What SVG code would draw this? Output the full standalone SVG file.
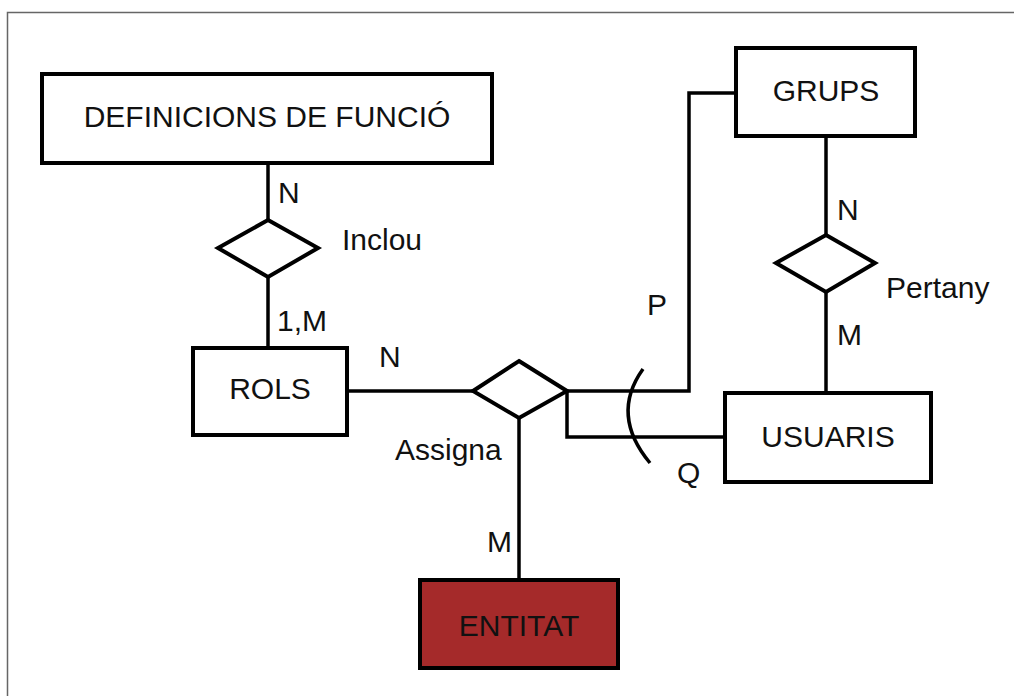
<svg xmlns="http://www.w3.org/2000/svg" width="1014" height="696" viewBox="0 0 1014 696">
<style>
.box{fill:#fff;stroke:#000;stroke-width:4}
.dia{fill:#fff;stroke:#000;stroke-width:4;stroke-linejoin:miter}
.ln{fill:none;stroke:#000;stroke-width:3.5}
text{font-family:"Liberation Sans",Arial,sans-serif;font-size:30px;fill:#111}
.c{text-anchor:middle}
</style>
<rect width="1014" height="696" fill="#fff"/>
<path d="M7.5 696 V12.5 H1014" fill="none" stroke="#666" stroke-width="1.5"/>
<g id="connectors">
<path class="ln" d="M268 163 V220"/>
<path class="ln" d="M268 277 V348"/>
<path class="ln" d="M347 391 H473"/>
<path class="ln" d="M519 418 V580"/>
<path class="ln" d="M567 391 H689 V93 H736"/>
<path class="ln" d="M567 391 V437 H725"/>
<path class="ln" d="M826 136 V235"/>
<path class="ln" d="M826 292 V393"/>
<path class="ln" d="M643 369 Q610 415 650 463"/>
<text x="278" y="203">N</text>
<text x="277" y="331">1,M</text>
<text x="379" y="367">N</text>
<text x="487" y="552">M</text>
<text x="647" y="315">P</text>
<text x="677" y="483">Q</text>
<text x="837" y="220">N</text>
<text x="837" y="345">M</text>
</g>
<g id="definicions">
<rect class="box" x="42" y="74" width="450" height="89"/>
<text class="c" x="267" y="127">DEFINICIONS DE FUNCIÓ</text>
</g>
<g id="inclou">
<polygon class="dia" points="268,220 318,248 268,277 218,248"/>
<text x="342" y="250">Inclou</text>
</g>
<g id="rols">
<rect class="box" x="193" y="348" width="154" height="87"/>
<text class="c" x="270" y="399">ROLS</text>
</g>
<g id="assigna">
<polygon class="dia" points="519,361 567,391 519,418 473,391"/>
<text x="395" y="460">Assigna</text>
</g>
<g id="entitat">
<rect x="420" y="580" width="198" height="88" fill="#a52a2a" stroke="#000" stroke-width="4"/>
<text class="c" x="519" y="636">ENTITAT</text>
</g>
<g id="grups">
<rect class="box" x="736" y="48" width="179" height="88"/>
<text class="c" x="826" y="101">GRUPS</text>
</g>
<g id="pertany">
<polygon class="dia" points="826,235 875,263 826,292 776,263"/>
<text x="886" y="298">Pertany</text>
</g>
<g id="usuaris">
<rect class="box" x="725" y="393" width="206" height="89"/>
<text class="c" x="828" y="447">USUARIS</text>
</g>
</svg>
